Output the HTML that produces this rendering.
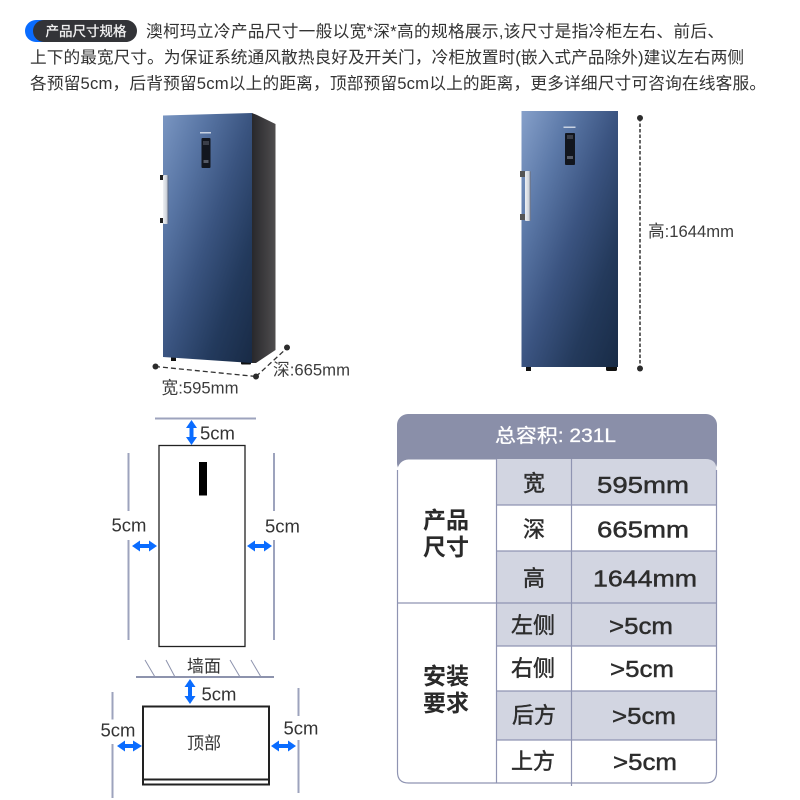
<!DOCTYPE html>
<html><head><meta charset="utf-8">
<style>
html,body{margin:0;padding:0;background:#fff}
svg{display:block}
text{font-family:"Liberation Sans","Noto Sans CJK SC",sans-serif;fill:#333}
.p{font-size:16.7px;fill:#333}
.l{font-size:17px;fill:#3c3c3c}
.cm{font-size:18.5px;fill:#333}
.c{text-anchor:middle}
.k{font-size:22px;fill:#2d2d2d;text-anchor:middle;stroke:#2d2d2d;stroke-width:.45px}
.v{font-size:23px;fill:#2d2d2d;stroke:#2d2d2d;stroke-width:.45px}
.h{font-size:23px;font-weight:700;fill:#2a2a2a;text-anchor:middle}
</style></head><body>
<svg xmlns="http://www.w3.org/2000/svg" width="800" height="800" viewBox="0 0 800 800">
<defs>
<linearGradient id="d1" x1="0" y1="0" x2="1" y2="1">
<stop offset="0" stop-color="#7a96c2"/><stop offset=".25" stop-color="#5875a4"/><stop offset=".5" stop-color="#3a5480"/><stop offset=".75" stop-color="#233a5d"/><stop offset="1" stop-color="#182a45"/>
</linearGradient>
<linearGradient id="d2" x1="0" y1="0" x2="1" y2="1">
<stop offset="0" stop-color="#86a0ca"/><stop offset=".25" stop-color="#5c79a8"/><stop offset=".5" stop-color="#3b5481"/><stop offset=".75" stop-color="#243a5c"/><stop offset="1" stop-color="#182b46"/>
</linearGradient>
<linearGradient id="side" x1="0" y1="0" x2="1" y2="0">
<stop offset="0" stop-color="#28282c"/><stop offset="1" stop-color="#4f4d4e"/>
</linearGradient>
<linearGradient id="hdl" x1="0" y1="0" x2="1" y2="0">
<stop offset="0" stop-color="#eef0f3"/><stop offset=".65" stop-color="#cfd3da"/><stop offset="1" stop-color="#4d5c7a"/>
</linearGradient>
</defs>

<!-- tag -->
<rect x="25" y="20" width="50" height="22" rx="11" fill="#0a6cff"/>
<rect x="33" y="20" width="104" height="22" rx="11" fill="#333438"/>
<text x="86" y="36" class="c" style="fill:#f2f2f2;font-size:13.5px;stroke:#f2f2f2;stroke-width:.3px">产品尺寸规格</text>

<!-- paragraph -->
<text class="p" x="146" y="37" textLength="578">澳柯玛立冷产品尺寸一般以宽*深*高的规格展示,该尺寸是指冷柜左右、前后、</text>
<text class="p" x="30" y="63" textLength="714">上下的最宽尺寸。为保证系统通风散热良好及开关门，冷柜放置时(嵌入式产品除外)建议左右两侧</text>
<text class="p" x="30" y="89" textLength="736">各预留5cm，后背预留5cm以上的距离，顶部预留5cm以上的距离，更多详细尺寸可咨询在线客服。</text>

<!-- fridge 1 -->
<polygon points="252,113 257,115 275.5,124 275.5,350 256,363 252,363" fill="url(#side)"/>
<rect x="171" y="356" width="5" height="5" fill="#111"/>
<rect x="241" y="360" width="10" height="4.5" rx="1" fill="#111"/>
<polygon points="163,115.5 252,113 252,363 163,357" fill="url(#d1)"/>
<rect x="160" y="175" width="4" height="5" fill="#222"/>
<rect x="160" y="218" width="4" height="5" fill="#222"/>
<rect x="163" y="175" width="5.5" height="49" rx="1" fill="url(#hdl)"/>
<rect x="201.5" y="138" width="9" height="30" rx="1" fill="#12161e"/>
<rect x="203" y="141" width="6" height="4" fill="#3a3e48"/>
<rect x="203.5" y="160" width="5" height="3" fill="#555a66"/>
<rect x="200" y="132" width="11" height="1.5" fill="#c8d2e2"/>

<path d="M155 366.500 L256 376.500" stroke="#333" stroke-width="1.3" stroke-dasharray="5 3" fill="none"/>
<path d="M256 376.500 L287 348" stroke="#333" stroke-width="1.3" stroke-dasharray="5 3" fill="none"/>
<circle cx="155.500" cy="366.500" r="3" fill="#2c2c2c"/>
<circle cx="256" cy="376.500" r="3" fill="#2c2c2c"/>
<circle cx="287" cy="347.500" r="3" fill="#2c2c2c"/>
<text class="l" x="161.500" y="393.500" textLength="77" lengthAdjust="spacingAndGlyphs">宽:595mm</text>
<text class="l" x="273" y="375.500" textLength="77" lengthAdjust="spacingAndGlyphs">深:665mm</text>

<!-- fridge 2 -->
<rect x="526" y="366" width="5" height="5" fill="#111"/>
<rect x="606" y="366" width="11" height="5" rx="1.5" fill="#111"/>
<rect x="521.5" y="111" width="96.5" height="256" fill="url(#d2)"/>
<rect x="520" y="171" width="5" height="6" fill="#555"/>
<rect x="520" y="214" width="5" height="6" fill="#555"/>
<rect x="525" y="171" width="6" height="50" rx="1" fill="url(#hdl)"/>
<rect x="565" y="133" width="10" height="32" rx="1" fill="#12161e"/>
<rect x="567" y="135" width="6" height="4" fill="#3a3e48"/>
<rect x="567" y="156" width="6" height="3" fill="#555a66"/>
<rect x="563.5" y="126.500" width="12" height="1.5" fill="#c8d2e2"/>
<path d="M640 118 V368" stroke="#333" stroke-width="1.5" stroke-dasharray="3.500 2" fill="none"/>
<circle cx="640" cy="118" r="3" fill="#2c2c2c"/>
<circle cx="640" cy="368.500" r="3" fill="#2c2c2c"/>
<text class="l" x="648" y="237" textLength="86" lengthAdjust="spacingAndGlyphs">高:1644mm</text>

<!-- front clearance diagram -->
<rect x="159" y="445.500" width="86" height="201" fill="#fff" stroke="#222" stroke-width="1.3"/>
<rect x="199" y="462" width="8" height="33.500" fill="#000"/>
<g stroke="#9da3bd" stroke-width="2" fill="none">
<path d="M155 418.500 H256"/>
<path d="M128.500 453 V511 M128.500 540 V640"/>
<path d="M274 453 V511 M274 540 V640"/>
<path d="M136 677 H274" stroke="#8d93ad"/>
<path d="M112.500 692 V719.500 M112.500 744 V798"/>
<path d="M298.500 688 V716 M298.500 740 V793"/>
</g>
<g stroke="#8d93ad" stroke-width="1" fill="none">
<path d="M145 660 L155 677 M166 660 L175 677 M230 660 L240 677 M251 660 L261 677"/>
</g>
<rect x="143" y="706.500" width="126" height="78" fill="#fff" stroke="#222" stroke-width="2"/>
<path d="M143 779.500 H269" stroke="#222" stroke-width="2"/>

<!-- blue arrows -->
<g fill="#0a6cff">
<polygon points="191.500,420 197,428 193.500,428 193.500,437 197,437 191.500,445 186,437 189.500,437 189.500,428 186,428"/>
<polygon points="132,546 140,540.500 140,544 149,544 149,540.500 157,546 149,551.500 149,548 140,548 140,551.500"/>
<polygon points="247,546 255,540.500 255,544 264,544 264,540.500 272,546 264,551.500 264,548 255,548 255,551.500"/>
<polygon points="190,679 195.500,687 192,687 192,696 195.500,696 190,704 184.500,696 188,696 188,687 184.500,687"/>
<polygon points="117,746 125,740.500 125,744 133,744 133,740.500 142,746 133,751.500 133,748 125,748 125,751.500"/>
<polygon points="271,746 279,740.500 279,744 288,744 288,740.500 296,746 288,751.500 288,748 279,748 279,751.500"/>
</g>
<text class="cm" x="200" y="439.500">5cm</text>
<text class="cm" x="111.500" y="531.500">5cm</text>
<text class="cm" x="265" y="532.500">5cm</text>
<text class="cm" x="201.500" y="700.500">5cm</text>
<text class="cm" x="100.500" y="736.500">5cm</text>
<text class="cm" x="283.500" y="734.500">5cm</text>
<text x="204" y="672" class="c" style="font-size:17px">墙面</text>
<text x="204" y="749" class="c" style="font-size:17px">顶部</text>

<!-- table -->
<rect x="397" y="414" width="320" height="60" rx="11" fill="#8a8fa9"/>
<rect x="397.500" y="459.500" width="319" height="323.500" rx="11" fill="#fff"/>
<path d="M496 459 H705.500 Q716.500 459 716.500 470 V505 H496 Z" fill="#d2d5e1"/>
<rect x="496" y="551" width="220.500" height="95" fill="#d2d5e1"/>
<rect x="496" y="691" width="220.500" height="49" fill="#d2d5e1"/>
<g stroke="#8f94b2" stroke-width="1.2" fill="none">
<path d="M397.500 470 V772 Q397.500 783 408.500 783 H705.500 Q716.500 783 716.500 772 V470"/>
<path d="M496.500 459 V783 M571.500 459 V786"/>
<path d="M397 603 H717 M496 505 H717 M496 551 H717 M496 646 H717 M496 691 H717 M496 740 H717"/>
</g>
<text x="495" y="442" style="fill:#fff;font-size:19px;stroke:#fff;stroke-width:.3px" textLength="121" lengthAdjust="spacingAndGlyphs">总容积: 231L</text>

<text class="h" x="446" y="528">产品</text>
<text class="h" x="446" y="555">尺寸</text>
<text class="h" x="446" y="684">安装</text>
<text class="h" x="446" y="711">要求</text>

<text class="k" x="534" y="491">宽</text>
<text class="k" x="534" y="537">深</text>
<text class="k" x="534" y="586">高</text>
<text class="k" x="533" y="633">左侧</text>
<text class="k" x="533" y="676">右侧</text>
<text class="k" x="534" y="723">后方</text>
<text class="k" x="533" y="769">上方</text>

<text class="v" x="597" y="493" textLength="92" lengthAdjust="spacingAndGlyphs">595mm</text>
<text class="v" x="597" y="537.500" textLength="92" lengthAdjust="spacingAndGlyphs">665mm</text>
<text class="v" x="593" y="586.500" textLength="104" lengthAdjust="spacingAndGlyphs">1644mm</text>
<text class="v" x="609" y="634" textLength="64" lengthAdjust="spacingAndGlyphs">&gt;5cm</text>
<text class="v" x="610" y="677" textLength="64" lengthAdjust="spacingAndGlyphs">&gt;5cm</text>
<text class="v" x="612" y="724" textLength="64" lengthAdjust="spacingAndGlyphs">&gt;5cm</text>
<text class="v" x="613" y="770" textLength="64" lengthAdjust="spacingAndGlyphs">&gt;5cm</text>
</svg>
</body></html>
